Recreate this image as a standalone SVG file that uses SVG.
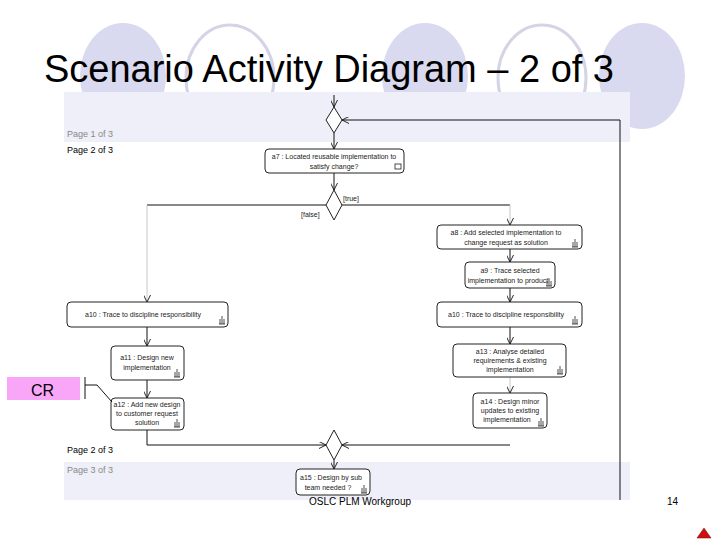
<svg xmlns="http://www.w3.org/2000/svg" width="720" height="540" viewBox="0 0 720 540">
<style>
.bgf{fill:#d9d9ef;}
.bgo{fill:#ffffff;stroke:#d4d4e6;stroke-width:3;}
.band{fill:#efeff9;}
.title{font-family:"Liberation Sans",Arial,sans-serif;font-size:38px;fill:#000;}
.page{font-family:"Liberation Sans",Arial,sans-serif;font-size:9px;}
.lbl{font-family:"Liberation Sans",Arial,sans-serif;font-size:7px;fill:#222;}
.box{fill:#fff;stroke:#222;stroke-width:1;}
.dia{fill:#fff;stroke:#222;stroke-width:1;}
.c{fill:none;stroke:#111;stroke-width:1;}
.cf{fill:none;stroke:#c8c8c8;stroke-width:1;}
.foot{font-family:"Liberation Sans",Arial,sans-serif;font-size:10px;fill:#000;}
.ic{fill:none;stroke:#222;stroke-width:0.8;}
</style>
<defs>
<marker id="arr" viewBox="0 0 10 10" refX="10" refY="5" markerWidth="7" markerHeight="7" markerUnits="userSpaceOnUse" orient="auto">
<path d="M0,0 L10,5 L0,10" fill="none" stroke="#111" stroke-width="1.3"/>
</marker>
<symbol id="rake" viewBox="0 0 8 8" width="8" height="8" overflow="visible">
<path class="ic" d="M1,8 H7 M2,3 V8 M4,0 V8 M6,3 V8"/>
</symbol>
</defs>
<rect width="720" height="540" fill="#fff"/>
<g id="background">
<ellipse class="bgf" cx="123" cy="76" rx="43" ry="53"/>
<ellipse class="bgo" cx="230" cy="78" rx="44" ry="53"/>
<ellipse class="bgf" cx="425" cy="76" rx="43" ry="53"/>
<ellipse class="bgo" cx="542" cy="78" rx="44" ry="53"/>
<ellipse class="bgf" cx="642" cy="76" rx="43" ry="53"/>
<text class="title" x="44" y="82" textLength="570" lengthAdjust="spacingAndGlyphs">Scenario Activity Diagram – 2 of 3</text>
<rect x="64" y="92" width="566" height="50" class="band"/>
<rect x="64" y="142" width="566" height="320" fill="#fff"/>
<rect x="64" y="462" width="566" height="38" class="band"/>
<text class="page" x="67" y="137" fill="#888">Page 1 of 3</text>
<text class="page" x="67" y="153" fill="#000">Page 2 of 3</text>
<text class="page" x="67" y="453" fill="#000">Page 2 of 3</text>
<text class="page" x="67" y="473" fill="#888">Page 3 of 3</text>
</g>
<g id="connectors">
<path class="c" d="M334,95 V107" marker-end="url(#arr)"/>
<path class="c" d="M334,133 V149" marker-end="url(#arr)"/>
<path class="c" d="M620,500 V120 H342" marker-end="url(#arr)"/>
<path class="c" d="M334,173 V190" marker-end="url(#arr)"/>
<path class="c" d="M326,205 H147"/>
<path class="cf" d="M147,205 V302" marker-end="url(#arr)"/>
<path class="c" d="M342,205 H510"/>
<path class="cf" d="M510,205 V225" marker-end="url(#arr)"/>
<path class="c" d="M510,249 V262" marker-end="url(#arr)"/>
<path class="c" d="M510,288 V302" marker-end="url(#arr)"/>
<path class="c" d="M510,327 V344" marker-end="url(#arr)"/>
<path class="cf" d="M510,377 V393" marker-end="url(#arr)"/>
<path class="c" d="M147,327 V346" marker-end="url(#arr)"/>
<path class="c" d="M147,380 V398" marker-end="url(#arr)"/>
<path class="c" d="M147,430 V445 H326" marker-end="url(#arr)"/>
<path class="c" d="M510,445 H342" marker-end="url(#arr)"/>
<path class="c" d="M334,460 V469" marker-end="url(#arr)"/>
<text class="lbl" x="343" y="201">[true]</text>
<text class="lbl" x="301" y="217">[false]</text>
</g>
<g id="d1"><path class="dia" d="M334,107 L342,120 L334,133 L326,120 Z"/></g>
<g id="d2"><path class="dia" d="M334,190 L342,205 L334,220 L326,205 Z"/></g>
<g id="d3"><path class="dia" d="M334,430 L342,445 L334,460 L326,445 Z"/></g>
<g id="a7">
<rect class="box" x="265" y="149" width="139" height="24" rx="4"/>
<text class="lbl" x="334" y="159" text-anchor="middle">a7 : Located reusable implementation to</text>
<text class="lbl" x="334" y="169" text-anchor="middle">satisfy change?</text>
<rect class="ic" x="395" y="164" width="6" height="5"/>
</g>
<g id="a8">
<rect class="box" x="437" y="225" width="145" height="24" rx="4"/>
<text class="lbl" x="506" y="235" text-anchor="middle">a8 : Add selected implementation to</text>
<text class="lbl" x="506" y="245" text-anchor="middle">change request as solution</text>
<use href="#rake" x="571" y="239"/>
</g>
<g id="a9">
<rect class="box" x="465" y="262" width="90" height="26" rx="4"/>
<text class="lbl" x="510" y="273" text-anchor="middle">a9 : Trace selected</text>
<text class="lbl" x="508" y="283" text-anchor="middle">implementation to product</text>
<use href="#rake" x="545" y="278"/>
</g>
<g id="a10r">
<rect class="box" x="437" y="302" width="145" height="25" rx="4"/>
<text class="lbl" x="506" y="317" text-anchor="middle">a10 : Trace to discipline responsibility</text>
<use href="#rake" x="571" y="316"/>
</g>
<g id="a10l">
<rect class="box" x="67" y="302" width="161" height="25" rx="4"/>
<text class="lbl" x="143" y="317" text-anchor="middle">a10 : Trace to discipline responsibility</text>
<use href="#rake" x="218" y="316"/>
</g>
<g id="a11">
<rect class="box" x="111" y="346" width="73" height="34" rx="4"/>
<text class="lbl" x="147" y="360" text-anchor="middle">a11 : Design new</text>
<text class="lbl" x="147" y="370" text-anchor="middle">implementation</text>
<use href="#rake" x="173" y="369"/>
</g>
<g id="a12">
<rect class="box" x="111" y="398" width="73" height="32" rx="4"/>
<text class="lbl" x="147" y="407" text-anchor="middle">a12 : Add new design</text>
<text class="lbl" x="147" y="416" text-anchor="middle">to customer request</text>
<text class="lbl" x="147" y="425" text-anchor="middle">solution</text>
<use href="#rake" x="173" y="419"/>
</g>
<g id="a13">
<rect class="box" x="453" y="344" width="113" height="33" rx="4"/>
<text class="lbl" x="510" y="354" text-anchor="middle">a13 : Analyse detailed</text>
<text class="lbl" x="510" y="363" text-anchor="middle">requirements &amp; existing</text>
<text class="lbl" x="510" y="372" text-anchor="middle">implementation</text>
<use href="#rake" x="556" y="366"/>
</g>
<g id="a14">
<rect class="box" x="473" y="393" width="74" height="35" rx="4"/>
<text class="lbl" x="510" y="404" text-anchor="middle">a14 : Design minor</text>
<text class="lbl" x="510" y="413" text-anchor="middle">updates to existing</text>
<text class="lbl" x="507" y="422" text-anchor="middle">implementation</text>
<use href="#rake" x="537" y="418"/>
</g>
<g id="a15">
<rect class="box" x="296" y="469" width="74" height="26" rx="4"/>
<text class="lbl" x="331" y="480" text-anchor="middle">a15 : Design by sub</text>
<text class="lbl" x="328" y="490" text-anchor="middle">team needed ?</text>
<use href="#rake" x="360" y="485"/>
</g>
<g id="cr">
<rect x="7" y="377" width="73" height="23" fill="#f9a6f9"/>
<text x="31" y="396" font-family="Liberation Sans, Arial, sans-serif" font-size="16" fill="#000">CR</text>
<path class="c" d="M85,377 V399 M85,385 H97 L112,402"/>
</g>
<g id="footer">
<text class="foot" x="360" y="505" text-anchor="middle">OSLC PLM Workgroup</text>
<text class="foot" x="667" y="505">14</text>
<path d="M697,538 L704,528 L711,538 Z" fill="#cc1111" stroke="#800" stroke-width="0.5"/>
</g>
</svg>
